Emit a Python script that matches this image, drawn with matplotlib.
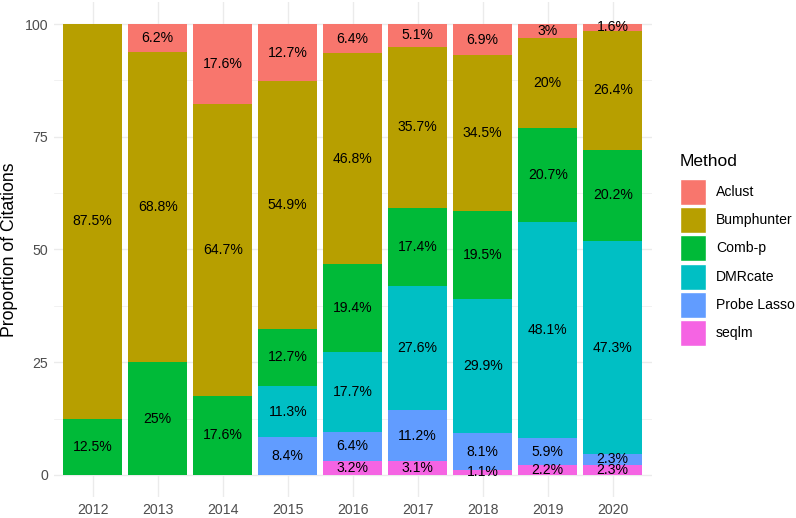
import matplotlib
matplotlib.use("Agg")
import matplotlib.pyplot as plt
from matplotlib.patches import Rectangle
import numpy as np

plt.rcParams['font.family'] = ['Liberation Sans', 'DejaVu Sans']

years = ["2012", "2013", "2014", "2015", "2016", "2017", "2018", "2019", "2020"]
# stacked from the bottom up: seqlm, Probe Lasso, DMRcate, Comb-p, Bumphunter, Aclust
seqlm = [0, 0, 0, 0, 3.2, 3.1, 1.1, 2.2, 2.3]
probe_lasso = [0, 0, 0, 8.4, 6.4, 11.2, 8.1, 5.9, 2.3]
dmrcate = [0, 0, 0, 11.3, 17.7, 27.6, 29.9, 48.1, 47.3]
comb_p = [12.5, 25, 17.6, 12.7, 19.4, 17.4, 19.5, 20.7, 20.2]
bumphunter = [87.5, 68.8, 64.7, 54.9, 46.8, 35.7, 34.5, 20, 26.4]
aclust = [0, 6.2, 17.6, 12.7, 6.4, 5.1, 6.9, 3, 1.6]

methods = ["Aclust", "Bumphunter", "Comb-p", "DMRcate", "Probe Lasso", "seqlm"]
colors = {"Aclust": "#F8766D", "Bumphunter": "#B79F00", "Comb-p": "#00BA38",
          "DMRcate": "#00BFC4", "Probe Lasso": "#619CFF", "seqlm": "#F564E3"}
stack = [("seqlm", seqlm), ("Probe Lasso", probe_lasso), ("DMRcate", dmrcate),
         ("Comb-p", comb_p), ("Bumphunter", bumphunter), ("Aclust", aclust)]

W, H = 796, 518
fig = plt.figure(figsize=(W / 100, H / 100), dpi=100)
ax = fig.add_axes([0.0675, 0.0396, 0.7512, 0.9575])

x = np.arange(len(years))
bottom = np.zeros(len(years))
for name, vals in stack:
    vals = np.array(vals, dtype=float)
    ax.bar(x, vals, width=0.9, bottom=bottom, color=colors[name], zorder=3, linewidth=0)
    for xi, b, v in zip(x, bottom, vals):
        if v > 0:
            ax.text(xi, b + v / 2, f"{v:g}%", ha="center", va="center",
                    fontsize=10.1, color="black", zorder=4)
    bottom += vals

ax.set_xlim(-0.6, len(years) - 0.4)
ax.set_ylim(-5, 105)
ax.set_xticks(x)
ax.set_xticklabels(years)
ax.set_yticks([0, 25, 50, 75, 100])
ax.set_yticks([12.5, 37.5, 62.5, 87.5], minor=True)
ax.grid(True, which="major", color="#EBEBEB", linewidth=1.0, zorder=0)
ax.grid(True, which="minor", axis="y", color="#EBEBEB", linewidth=0.5, zorder=0)
ax.tick_params(which="both", length=0, labelsize=10.2, labelcolor="#4D4D4D", pad=4)
for s in ax.spines.values():
    s.set_visible(False)
ax.set_ylabel("Proportion of Citations", fontsize=12.7, labelpad=5)

# legend drawn by hand to match ggplot key sizes
fig.text(680 / W, 1 - 162 / H, "Method", fontsize=12.5, ha="left", va="center")
for i, m in enumerate(methods):
    cy = 191.7 + 28.3 * i
    fig.patches.append(Rectangle((680 / W, 1 - (cy + 13) / H), 26 / W, 26 / H,
                                 transform=fig.transFigure, facecolor=colors[m],
                                 edgecolor="white", linewidth=1))
    fig.text(716 / W, 1 - cy / H, m, fontsize=10.1, ha="left", va="center")

fig.savefig("out.png", dpi=100)
